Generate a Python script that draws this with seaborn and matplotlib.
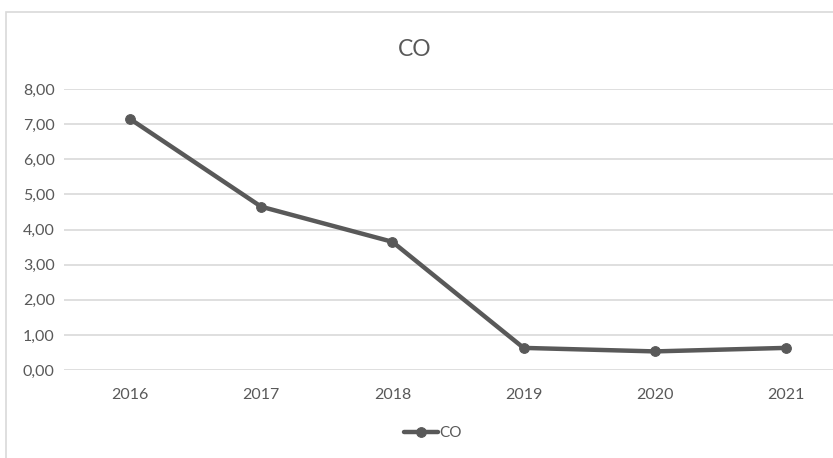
import matplotlib
matplotlib.use('Agg')
import matplotlib.pyplot as plt
import seaborn as sns
import pandas as pd
from matplotlib.ticker import FuncFormatter, MultipleLocator
from matplotlib.patches import Rectangle

# Data
years = ['2016', '2017', '2018', '2019', '2020', '2021']
co_values = [7.15, 4.65, 3.65, 0.63, 0.53, 0.63]

df = pd.DataFrame({'year': years, 'CO': co_values})

sns.set_theme(style='white')
plt.rcParams['font.family'] = ['Lato', 'DejaVu Sans']

fig = plt.figure(figsize=(8.33, 4.58), dpi=100)
ax = fig.add_axes([0.0773, 0.1921, 0.945, 0.6135])

# outer chart border (partly cropped in the reference)
fig.patches.append(Rectangle((6 / 833, -0.1), 1.2, 1.1 - 12 / 458,
                             transform=fig.transFigure, fill=False,
                             edgecolor='#d9d9d9', linewidth=1.2))

line_col = '#595959'
sns.lineplot(data=df, x='year', y='CO', ax=ax, color=line_col, linewidth=3.2,
             marker='o', markersize=7, markeredgecolor=line_col, label='CO')

ax.set_xlim(-0.5, 5.5)
ax.set_ylim(0, 8)
ax.yaxis.set_major_locator(MultipleLocator(1))
ax.yaxis.set_major_formatter(FuncFormatter(lambda v, p: f'{v:.2f}'.replace('.', ',')))
ax.grid(axis='y', color='#d9d9d9', linewidth=1.2)
ax.set_axisbelow(True)
for s in ax.spines.values():
    s.set_visible(False)
ax.tick_params(axis='both', length=0, labelsize=11.5, labelcolor='#595959')
ax.tick_params(axis='x', pad=13)
ax.tick_params(axis='y', pad=7)
ax.set_xlabel('')
ax.set_ylabel('')

fig.text(0.498, 0.893, 'CO', ha='center', va='center', fontsize=16.5, color='#595959')

leg = ax.legend(loc='center', bbox_to_anchor=(0.52, 0.054),
                bbox_transform=fig.transFigure, frameon=False, fontsize=11,
                handlelength=2.2, handletextpad=0.1, markerscale=1)
for t in leg.get_texts():
    t.set_color('#595959')

fig.savefig('out.png', dpi=100)
